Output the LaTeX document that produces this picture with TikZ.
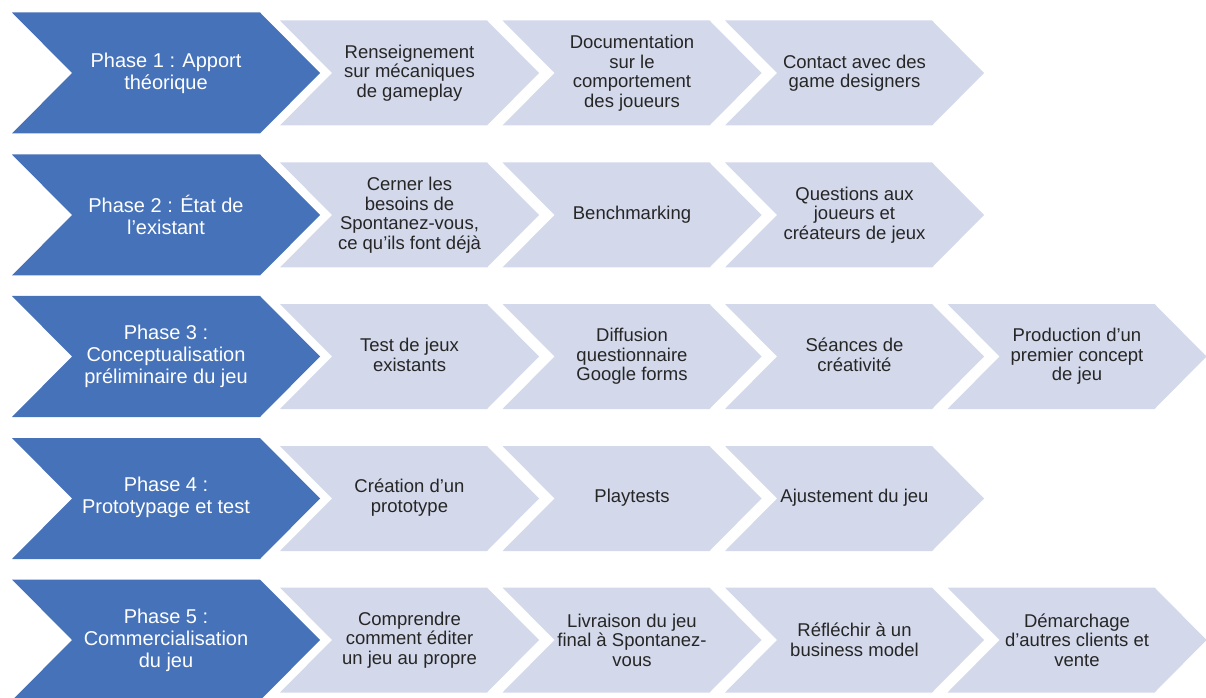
\documentclass[tikz,border=0pt]{standalone}
\usepackage{fontspec}
\setmainfont{Liberation Sans}
\definecolor{phaseblue}{RGB}{70,114,185}
\definecolor{steplight}{RGB}{211,217,235}
\tikzset{
  phasetext/.style={text=white, align=center, font=\fontsize{20}{22}\selectfont},
  steptext/.style={text=black!85, align=center, font=\fontsize{18.5}{19.5}\selectfont},
}
\begin{document}
\begin{tikzpicture}[x=1pt,y=1pt]
    \useasboundingbox (0,0) rectangle (1206,697);

    % phase chevrons
    \foreach \y in {624,482,340.5,198.5,57}
        \fill [phaseblue] (12,\y+60.5) -- (260,\y+60.5) -- (320,\y) -- (260,\y-60.5) -- (12,\y-60.5) -- (72,\y) -- cycle;

    % step chevrons (row centre / number of steps)
    \foreach \y/\n in {624/3,482/3,340.5/4,198.5/3,57/4}
        \foreach \k in {1,...,\n} {
            \pgfmathsetmacro\l{57.5+222.5*\k}
            \fill [steplight] (\l,\y+52.5) -- ({\l+207},\y+52.5) -- ({\l+259},\y) -- ({\l+207},\y-52.5) -- (\l,\y-52.5) -- ({\l+52},\y) -- cycle;
        }

    % phase 1
    \node (p1) at (166,624) [phasetext] {Phase 1 : Apport\\théorique};
    \node (s11) at (409.5,624) [steptext] {Renseignement\\sur mécaniques\\de gameplay};
    \node (s12) at (632,624) [steptext] {Documentation\\sur le\\comportement\\des joueurs};
    \node (s13) at (854.5,624) [steptext] {Contact avec des\\game designers};

    % phase 2
    \node (p2) at (166,482) [phasetext] {Phase 2 : État de\\l'existant};
    \node (s21) at (409.5,482) [steptext] {Cerner les\\besoins de\\Spontanez-vous,\\ce qu'ils font déjà};
    \node (s22) at (632,482) [steptext] {Benchmarking};
    \node (s23) at (854.5,482) [steptext] {Questions aux\\joueurs et\\créateurs de jeux};

    % phase 3
    \node (p3) at (166,340.5) [phasetext] {Phase 3 :\\Conceptualisation\\préliminaire du jeu};
    \node (s31) at (409.5,342) [steptext] {Test de jeux\\existants};
    \node (s32) at (632,340.5) [steptext] {Diffusion\\questionnaire\\Google forms};
    \node (s33) at (854.5,342) [steptext] {Séances de\\créativité};
    \node (s34) at (1077,340.5) [steptext] {Production d'un\\premier concept\\de jeu};

    % phase 4
    \node (p4) at (166,199.5) [phasetext] {Phase 4 :\\Prototypage et test};
    \node (s41) at (409.5,199.5) [steptext] {Création d'un\\prototype};
    \node (s42) at (632,199.5) [steptext] {Playtests};
    \node (s43) at (854.5,199.5) [steptext] {Ajustement du jeu};

    % phase 5
    \node (p5) at (166,57) [phasetext] {Phase 5 :\\Commercialisation\\du jeu};
    \node (s51) at (409.5,57) [steptext] {Comprendre\\comment éditer\\un jeu au propre};
    \node (s52) at (632,57) [steptext] {Livraison du jeu\\final à Spontanez-\\vous};
    \node (s53) at (854.5,57) [steptext] {Réfléchir à un\\business model};
    \node (s54) at (1077,57) [steptext] {Démarchage\\d'autres clients et\\vente};

\end{tikzpicture}
\end{document}
